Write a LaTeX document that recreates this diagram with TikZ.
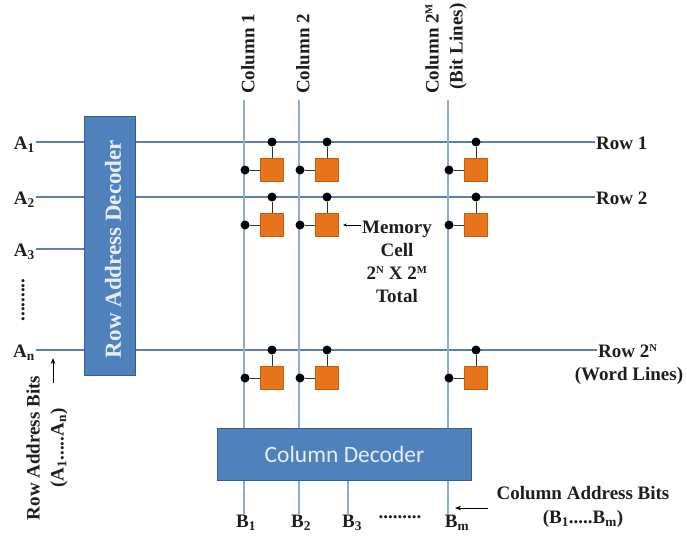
\documentclass[tikz,border=0pt]{standalone}
\usepackage{fontspec}
\setmainfont{Liberation Serif}
\newfontfamily\calib{Carlito}
\usetikzlibrary{arrows.meta,calc}
\definecolor{decblue}{RGB}{79,129,189}
\definecolor{decedge}{RGB}{56,93,138}
\definecolor{rowline}{RGB}{91,125,184}
\definecolor{colline}{RGB}{143,170,220}
\definecolor{cellfill}{RGB}{232,115,26}
\definecolor{celledge}{RGB}{190,95,20}
\definecolor{txt}{RGB}{30,30,30}
\definecolor{dectxt}{RGB}{232,238,248}
\newcommand{\smsup}[1]{\textsuperscript{\scalebox{0.8}{#1}}}
\begin{document}
\begin{tikzpicture}[x=1pt,y=-1pt,
  lbl/.style={font=\fontsize{19}{24}\selectfont\bfseries, text=txt, inner sep=1pt},
  decbox/.style={draw=decedge, fill=decblue, line width=1pt},
  roww/.style={draw=rowline, line width=1.4pt},
  coll/.style={draw=colline, line width=1.6pt},
  cellbox/.style={draw=celledge, fill=cellfill, minimum width=23pt, minimum height=23pt, inner sep=0pt, line width=0.8pt},
  jdot/.style={circle, fill=black, minimum size=9pt, inner sep=0pt},
  wire/.style={draw=black!80, line width=1pt},
  pointer/.style={draw=black, line width=1pt, -{Stealth[length=6pt,width=4.5pt]}}]
\useasboundingbox (0,0) rectangle (687,539);
% reference coordinates
\coordinate (r1) at (0,142);
\coordinate (r2) at (0,197);
\coordinate (r3) at (0,249);
\coordinate (rn) at (0,350);
\coordinate (c1) at (244,100);
\coordinate (c2) at (299,100);
\coordinate (c3) at (348,100);
\coordinate (cm) at (448,100);
% decoders
\node[decbox, minimum width=51pt, minimum height=259pt, anchor=north west, inner sep=0pt] (rdec) at (84,116) {};
\node[rotate=90, font=\fontsize{23}{26}\selectfont\bfseries, text=dectxt] (rdectxt) at (113,249) {Row Address Decoder};
\node[decbox, minimum width=254pt, minimum height=52pt, anchor=north west, inner sep=0pt] (cdec) at (217,428) {};
\node[font=\calib\fontsize{23.5}{26}\selectfont, text=dectxt] (cdectxt) at (cdec.center) {Column Decoder};
% left address labels
\node[lbl, anchor=east] (A1) at (36,145) {A\textsubscript{1}};
\node[lbl, anchor=east] (A2) at (36,200) {A\textsubscript{2}};
\node[lbl, anchor=east] (A3) at (36,252) {A\textsubscript{3}};
\node[lbl, anchor=east] (An) at (36,353) {A\textsubscript{n}};
\node[lbl, rotate=90] (adots) at (23,300) {.........};
\draw[roww] (A1.east |- r1) -- (rdec.west |- r1);
\draw[roww] (A2.east |- r2) -- (rdec.west |- r2);
\draw[roww] (A3.east |- r3) -- (rdec.west |- r3);
\draw[roww] (An.east |- rn) -- (rdec.west |- rn);
% right row labels
\node[lbl, anchor=west] (R1) at (595,143) {Row 1};
\node[lbl, anchor=west] (R2) at (595,198) {Row 2};
\node[lbl, anchor=west] (RN) at (597,351) {Row 2\smsup{N}};
\node[lbl] (WL) at (629,376) {(Word Lines)};
\draw[roww] (rdec.east |- r1) -- (R1.west |- r1);
\draw[roww] (rdec.east |- r2) -- (R2.west |- r2);
\draw[roww] (rdec.east |- rn) -- (RN.west |- rn);
% column labels
\node[lbl, rotate=90, anchor=west] (C1) at (248,95) {Column 1};
\node[lbl, rotate=90, anchor=west] (C2) at (303,95) {Column 2};
\node[lbl, rotate=90, anchor=west, align=right] (CM) at (446,95) {Column 2\smsup{M}\\(Bit Lines)};
\draw[coll] (c1) -- (c1 |- cdec.north);
\draw[coll] (c2) -- (c2 |- cdec.north);
\draw[coll] (cm) -- (cm |- cdec.north);
% bottom address labels
\node[lbl, anchor=north] (B1) at (246,514) {B\textsubscript{1}};
\node[lbl, anchor=north] (B2) at (301,514) {B\textsubscript{2}};
\node[lbl, anchor=north] (B3) at (352,514) {B\textsubscript{3}};
\node[lbl, anchor=north] (bdots) at (400,514) {.........};
\node[lbl, anchor=north] (Bm) at (457,514) {B\textsubscript{m}};
\draw[coll] (c1 |- cdec.south) -- (c1 |- B1.north);
\draw[coll] (c2 |- cdec.south) -- (c2 |- B2.north);
\draw[coll] (c3 |- cdec.south) -- (c3 |- B3.north);
\draw[coll] (cm |- cdec.south) -- (cm |- Bm.north);
% memory cells
\foreach \cx/\cn in {244/1,299/2,448/m}{
  \foreach \ry/\rn in {142/1,197/2,350/n}{
    \node[cellbox] (cell\rn\cn) at (\cx+28,\ry+28) {};
    \node[jdot] (td\rn\cn) at (\cx+28,\ry) {};
    \node[jdot] (ld\rn\cn) at (\cx+1,\ry+28) {};
    \draw[wire] (td\rn\cn) -- (cell\rn\cn.north);
    \draw[wire] (ld\rn\cn) -- (cell\rn\cn.west);
  }
}
% memory cell label
\node[lbl, align=center, font=\fontsize{19}{23}\selectfont\bfseries] (mem) at (397,262) {Memory\\Cell\\2\smsup{N} X 2\smsup{M}\\Total};
\draw[pointer, line width=0.7pt, -{Stealth[length=4pt,width=3pt]}] (mem.west |- cell22.east) -- ([xshift=4pt]cell22.east);
% address bits labels
\node[lbl, rotate=90, align=center] (rab) at (47,448) {Row Address Bits\\(A\textsubscript{1}.....A\textsubscript{n})};
\coordinate (rabtail) at (53,383);
\coordinate (rabtip) at (53,358);
\draw[pointer] (rabtail) -- (rabtip);
\node[lbl, align=center] (cab) at (583,507) {Column Address Bits\\(B\textsubscript{1}.....B\textsubscript{m})};
\draw[pointer, shorten <=7pt, shorten >=7pt] (cab.west |- 0,508) -- (cm |- 0,508);
\end{tikzpicture}
\end{document}
